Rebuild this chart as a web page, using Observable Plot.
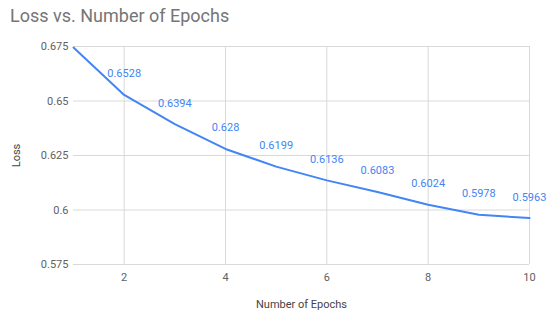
<!DOCTYPE html>
<html>
<head>
<meta charset="utf-8">
<script src="https://cdn.jsdelivr.net/npm/d3@7"></script>
<script src="https://cdn.jsdelivr.net/npm/@observablehq/plot@0.6"></script>
<style>
  html, body { margin: 0; padding: 0; background: #fff; }
  #wrap { position: relative; width: 548px; height: 312px; font-family: Roboto, sans-serif; }
  #title { position: absolute; left: 10px; top: 5px; font-size: 18px; color: #757575; font-family: Roboto, sans-serif; }
  svg { display: block; }
</style>
</head>
<body>
<div id="wrap"><div id="title">Loss vs. Number of Epochs</div></div>
<script>
const epochs = [1, 2, 3, 4, 5, 6, 7, 8, 9, 10];
const loss = [0.6745, 0.6528, 0.6394, 0.628, 0.6199, 0.6136, 0.6083, 0.6024, 0.5978, 0.5963];
const labelled = [false, true, true, true, true, true, true, true, true, true];
const xTicks = [2, 4, 6, 8, 10];
const yTicks = [0.575, 0.6, 0.625, 0.65, 0.675];

const data = epochs.map((e, i) => ({epoch: e, loss: loss[i], show: labelled[i]}));

const chart = Plot.plot({
  width: 548,
  height: 312,
  marginLeft: 73,
  marginRight: 19,
  marginTop: 46,
  marginBottom: 48,
  style: {fontFamily: "Roboto, sans-serif", fontSize: "11px", color: "#616161", background: "#fff", overflow: "visible"},
  x: {domain: [1, 10]},
  y: {domain: [0.575, 0.675]},
  marks: [
    Plot.gridY(yTicks, {stroke: "#d9d9d9", strokeOpacity: 1}),
    Plot.gridX(xTicks, {stroke: "#d9d9d9", strokeOpacity: 1}),
    Plot.axisY(yTicks, {tickSize: 0, tickPadding: 5, tickFormat: d => String(d), label: null, fill: "#616161"}),
    Plot.axisY(yTicks, {ticks: [], tickSize: 0, tickFormat: () => "", label: "Loss", labelAnchor: "center", labelArrow: "none", labelOffset: 61, fill: "#444"}),
    Plot.axisX(xTicks, {tickSize: 0, tickPadding: 9, tickFormat: d => String(d), label: null, fill: "#616161"}),
    Plot.axisX(xTicks, {ticks: [], tickSize: 0, tickFormat: () => "", label: "Number of Epochs", labelAnchor: "center", labelArrow: "none", labelOffset: 43, fill: "#444"}),
    Plot.line(data, {x: "epoch", y: "loss", stroke: "#4285F4", strokeWidth: 2}),
    Plot.text(data.filter(d => d.show), {x: "epoch", y: "loss", text: d => String(d.loss), dy: -21, fill: "#4285F4", fontSize: 11})
  ]
});
document.getElementById("wrap").appendChild(chart);
</script>
</body>
</html>
